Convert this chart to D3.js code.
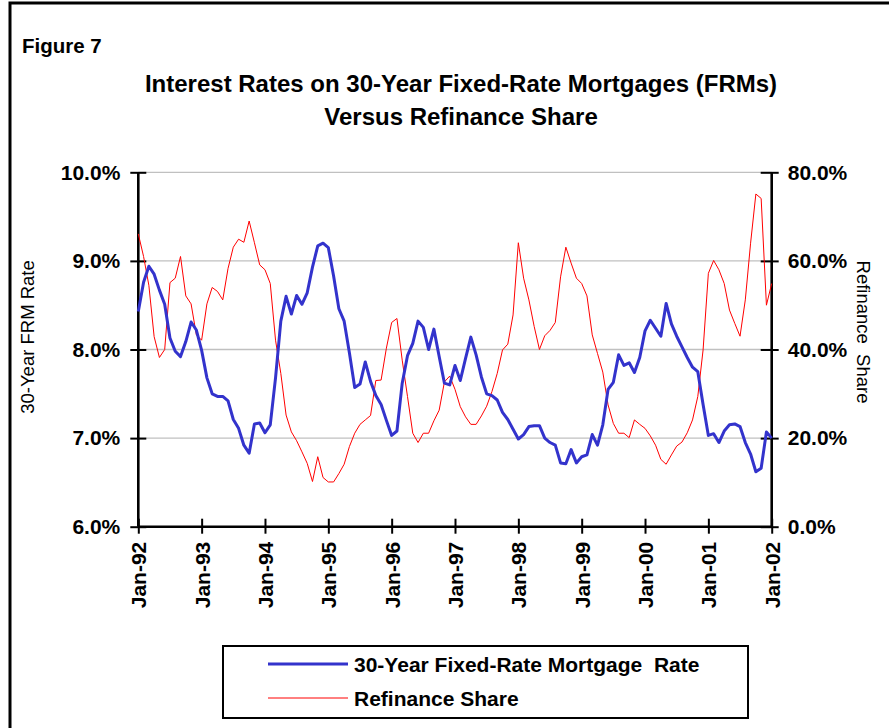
<!DOCTYPE html>
<html><head><meta charset="utf-8">
<script src="https://cdn.jsdelivr.net/npm/d3@7"></script>
<style>body{margin:0;background:#fff;} svg{display:block;font-family:"Liberation Sans",Arial,sans-serif;}</style>
</head><body>
<script>
// Monthly observations, Jan-92 .. Jan-02
const startMonth = "1992-01";
const frmRate = [
 8.43,8.76,8.94,8.85,8.67,8.51,8.13,7.98,7.92,8.09,8.31,8.22,
 7.99,7.68,7.50,7.47,7.47,7.42,7.21,7.11,6.92,6.83,7.16,7.17,
 7.06,7.15,7.68,8.32,8.60,8.40,8.61,8.51,8.64,8.93,9.17,9.20,
 9.15,8.83,8.46,8.32,7.96,7.57,7.61,7.86,7.64,7.48,7.38,7.20,
 7.03,7.08,7.62,7.93,8.07,8.32,8.25,8.00,8.23,7.92,7.62,7.60,
 7.82,7.65,7.90,8.14,7.94,7.69,7.50,7.48,7.43,7.29,7.21,7.10,
 6.99,7.04,7.13,7.14,7.14,7.00,6.95,6.92,6.72,6.71,6.87,6.72,
 6.79,6.81,7.04,6.92,7.15,7.55,7.63,7.94,7.82,7.85,7.74,7.91,
 8.21,8.33,8.24,8.15,8.52,8.29,8.15,8.03,7.91,7.80,7.75,7.38,
 7.03,7.05,6.95,7.08,7.15,7.16,7.13,6.95,6.82,6.62,6.66,7.07,
 7.00
];
const refiShare = [
 66.1,61.0,54.5,42.9,38.2,40.0,55.1,56.1,61.0,52.1,50.3,43.3,
 42.1,50.3,54.0,53.1,51.2,58.3,63.1,64.9,64.2,69.0,64.1,59.1,
 58.0,54.9,42.1,34.6,25.2,21.4,19.4,16.9,14.3,10.2,15.8,11.1,
 10.1,10.1,12.0,14.1,18.1,21.1,23.1,24.1,25.1,33.0,33.1,40.3,
 46.1,47.0,37.6,29.4,21.1,19.0,21.1,21.1,23.9,26.3,32.7,34.0,
 31.0,27.1,24.8,23.1,23.1,25.0,27.2,30.5,34.6,39.9,41.2,47.8,
 64.1,56.1,51.2,45.2,40.0,43.1,44.3,46.1,56.4,63.1,59.5,56.1,
 54.9,52.1,43.3,39.1,34.9,27.5,23.3,21.1,21.1,20.1,24.1,23.1,
 22.2,20.5,18.4,15.2,14.1,16.2,18.2,19.1,21.2,24.1,29.4,39.9,
 57.2,60.1,58.0,54.9,48.9,45.9,43.0,51.2,64.0,75.1,74.1,50.0,
 54.9
];
const xTickLabels = ["Jan-92","Jan-93","Jan-94","Jan-95","Jan-96","Jan-97","Jan-98","Jan-99","Jan-00","Jan-01","Jan-02"];
const leftTicks = [6,7,8,9,10];
const rightTicks = [0,20,40,60,80];
const seriesNames = ["30-Year Fixed-Rate Mortgage  Rate","Refinance Share"];

const W = 889, H = 728;
const svg = d3.select("body").append("svg").attr("width", W).attr("height", H);

// Outer frame
svg.append("path").attr("d","M10,740 V3 H900").attr("fill","none").attr("stroke","#000").attr("stroke-width",3);

const plot = {left:138.3, right:771.7, top:172.3, bottom:526.7};
const x = d3.scaleLinear().domain([0, frmRate.length-1]).range([plot.left, plot.right]);
const yL = d3.scaleLinear().domain([6,10]).range([plot.bottom, plot.top]);
const yR = d3.scaleLinear().domain([0,80]).range([plot.bottom, plot.top]);

// Titles
svg.append("text").attr("x",22).attr("y",53).attr("font-size",20.5).attr("font-weight","bold").text("Figure 7");
svg.append("text").attr("x",461).attr("y",91.5).attr("text-anchor","middle").attr("font-size",24).attr("font-weight","bold")
  .text("Interest Rates on 30-Year Fixed-Rate Mortgages (FRMs)");
svg.append("text").attr("x",461).attr("y",124.5).attr("text-anchor","middle").attr("font-size",24).attr("font-weight","bold")
  .text("Versus Refinance Share");

// Gridlines
svg.append("g").selectAll("line").data(leftTicks.filter(d=>d>6)).join("line")
  .attr("x1",plot.left).attr("x2",plot.right).attr("y1",d=>yL(d)).attr("y2",d=>yL(d))
  .attr("stroke","#c0c0c0").attr("stroke-width",1.3);

// Axes
const fmtL = d => d.toFixed(1)+"%";
const gL = svg.append("g").attr("transform",`translate(${plot.left},0)`)
  .call(d3.axisLeft(yL).tickValues(leftTicks).tickFormat(fmtL).tickSize(8).tickPadding(10));
gL.selectAll(".tick line").attr("x1",8);
const gR = svg.append("g").attr("transform",`translate(${plot.right},0)`)
  .call(d3.axisRight(yR).tickValues(rightTicks).tickFormat(fmtL).tickSize(7).tickPadding(9));
gR.selectAll(".tick line").attr("x1",-11);
const xTickIdx = xTickLabels.map((d,i)=>i*12);
const gX = svg.append("g").attr("transform",`translate(0,${plot.bottom})`)
  .call(d3.axisBottom(x).tickValues(xTickIdx).tickFormat((d,i)=>xTickLabels[i]).tickSize(7));
gX.selectAll(".tick line").attr("y1",-8);
gX.selectAll(".tick text").attr("transform","rotate(-90)").attr("text-anchor","end")
  .attr("x",-15).attr("y",0).attr("dy","0.36em");
[gL,gR,gX].forEach(g=>{
  g.selectAll(".domain").attr("stroke","#000").attr("stroke-width",2.6);
  g.selectAll(".tick line").attr("stroke","#000").attr("stroke-width",2);
  g.selectAll(".tick text").attr("fill","#000").attr("font-size",21).attr("font-weight","bold")
    .attr("font-family","Liberation Sans, Arial, sans-serif");
});
gL.select(".domain").attr("d",`M0,${plot.bottom}V${plot.top}`);
gR.select(".domain").attr("d",`M0,${plot.bottom}V${plot.top}`);
gX.select(".domain").attr("d",`M${plot.left},0H${plot.right}`);

// Axis titles
svg.append("text").attr("transform","translate(33.5,337) rotate(-90)").attr("text-anchor","middle")
  .attr("font-size",18.5).text("30-Year FRM Rate");
svg.append("text").attr("transform","translate(856.5,332) rotate(90)").attr("text-anchor","middle")
  .attr("font-size",18.5).style("white-space","pre").text("Refinance  Share");

// Lines
const lineR = d3.line().x((d,i)=>x(i)).y(d=>yR(d));
const lineL = d3.line().x((d,i)=>x(i)).y(d=>yL(d));
svg.append("path").datum(refiShare).attr("d",lineR).attr("fill","none").attr("stroke","#ff0000").attr("stroke-width",1);
svg.append("path").datum(frmRate).attr("d",lineL).attr("fill","none").attr("stroke","#3333cc").attr("stroke-width",3).attr("stroke-linejoin","round");

// Legend
const lg = svg.append("g");
lg.append("rect").attr("x",223).attr("y",646).attr("width",525).attr("height",72).attr("fill","#fff").attr("stroke","#000").attr("stroke-width",2);
const legendItems = [{name:seriesNames[0],color:"#3333cc",w:3,y:664},{name:seriesNames[1],color:"#ff0000",w:1,y:698}];
legendItems.forEach(it=>{
  lg.append("line").attr("x1",268).attr("x2",348).attr("y1",it.y).attr("y2",it.y).attr("stroke",it.color).attr("stroke-width",it.w);
  lg.append("text").attr("x",354).attr("y",it.y).attr("dy","0.36em").attr("font-size",21).attr("font-weight","bold")
    .style("white-space","pre").text(it.name);
});
</script>
</body></html>
